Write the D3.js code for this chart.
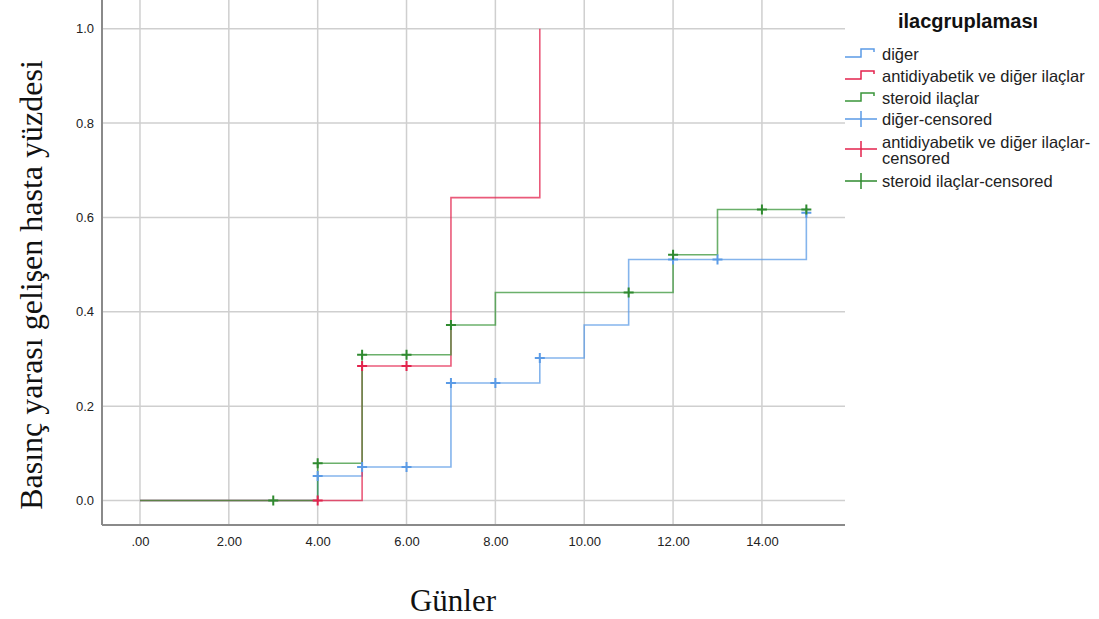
<!DOCTYPE html>
<html><head><meta charset="utf-8">
<script src="https://cdn.jsdelivr.net/npm/d3@7"></script>
<style>body{margin:0;background:#fff}svg{display:block}</style>
</head><body>
<svg id="chart" width="1099" height="619"></svg>
<script>
// ---- data ----
const groups = ["diğer", "antidiyabetik ve diğer ilaçlar", "steroid ilaçlar"];
const colors = ["#5b9be6", "#e3234d", "#3a953a"];
const censorColors = ["#5b9be6", "#e3234d", "#2f8a2f"];

const digerTimes = [0, 4, 5, 7, 9, 10, 11, 15];
const digerValues = [0, 0.052, 0.071, 0.249, 0.302, 0.372, 0.511, 0.61];
const antiTimes = [0, 5, 7, 9];
const antiValues = [0, 0.285, 0.642, 1.0];
const steroidTimes = [0, 4, 5, 7, 8, 12, 13, 15];
const steroidValues = [0, 0.079, 0.309, 0.372, 0.441, 0.521, 0.617, 0.617];

const digerCensTimes = [4, 5, 6, 7, 8, 9, 12, 13, 15];
const digerCensValues = [0.052, 0.071, 0.071, 0.249, 0.249, 0.302, 0.511, 0.511, 0.61];
const antiCensTimes = [4, 5, 6];
const antiCensValues = [0, 0.285, 0.285];
const steroidCensTimes = [3, 4, 5, 6, 7, 11, 12, 14, 15];
const steroidCensValues = [0, 0.079, 0.309, 0.309, 0.372, 0.441, 0.521, 0.617, 0.617];

const xTicks = [0, 2, 4, 6, 8, 10, 12, 14];
const yTicks = [0, 0.2, 0.4, 0.6, 0.8, 1.0];
const legendTitle = "ilacgruplaması";
const legendLabels = ["diğer", "antidiyabetik ve diğer ilaçlar", "steroid ilaçlar",
  "diğer-censored", ["antidiyabetik ve diğer ilaçlar-", "censored"], "steroid ilaçlar-censored"];
const xTitle = "Günler";
const yTitle = "Basınç yarası gelişen hasta yüzdesi";

// ---- layout ----
const svg = d3.select("#chart");
const L = 102, R = 845, T = 0, B = 525;
const x = d3.scaleLinear().domain([-0.855, 15.87]).range([L, R]);
const y = d3.scaleLinear().domain([-0.052, 1.061]).range([B, T]);

// gridlines
const grid = svg.append("g");
grid.selectAll("line.v").data(xTicks).join("line")
  .attr("x1", d => x(d)).attr("x2", d => x(d)).attr("y1", T).attr("y2", B)
  .attr("stroke", "#cfcfcf").attr("stroke-width", 1.5);
grid.selectAll("line.h").data(yTicks).join("line")
  .attr("x1", L).attr("x2", R).attr("y1", d => y(d)).attr("y2", d => y(d))
  .attr("stroke", "#cfcfcf").attr("stroke-width", 1.5);

// axes
const xAxis = svg.append("g").attr("transform", `translate(0,${B})`)
  .call(d3.axisBottom(x).tickValues(xTicks).tickSize(0).tickPadding(12)
    .tickFormat(d => d3.format(".2f")(d).replace(/^0\./, ".")));
const yAxis = svg.append("g").attr("transform", `translate(${L},0)`)
  .call(d3.axisLeft(y).tickValues(yTicks).tickSize(0).tickPadding(8).tickFormat(d3.format(".1f")));
[xAxis, yAxis].forEach(a => {
  a.select(".domain").attr("stroke", "#8a8a8a").attr("stroke-width", 2);
  a.selectAll("text").attr("font-family", "Liberation Sans, Arial, sans-serif")
    .attr("font-size", 13).attr("fill", "#222");
});
xAxis.select(".domain").attr("d", `M${L},0H${R}`);
yAxis.select(".domain").attr("d", `M0,${T}V${B}`);

// curves
const series = [
  {t: digerTimes, v: digerValues, ct: digerCensTimes, cv: digerCensValues},
  {t: antiTimes, v: antiValues, ct: antiCensTimes, cv: antiCensValues},
  {t: steroidTimes, v: steroidValues, ct: steroidCensTimes, cv: steroidCensValues}
];
const line = d3.line().x(d => x(d[0])).y(d => y(d[1])).curve(d3.curveStepAfter);
series.forEach((s, i) => {
  svg.append("path").datum(s.t.map((t, j) => [t, s.v[j]]))
    .attr("d", line).attr("fill", "none").attr("stroke", colors[i])
    .attr("stroke-width", 1.6).attr("stroke-opacity", 0.75);
});
series.forEach((s, i) => {
  const pts = s.ct.map((t, j) => [t, s.cv[j]]);
  const g = svg.append("g");
  g.selectAll("path").data(pts).join("path")
    .attr("d", d => `M${x(d[0]) - 5},${y(d[1])}H${x(d[0]) + 5}M${x(d[0])},${y(d[1]) - 5}V${y(d[1]) + 5}`)
    .attr("stroke", censorColors[i]).attr("stroke-width", 2).attr("fill", "none");
});

// legend
const lg = svg.append("g").attr("font-family", "Liberation Sans, Arial, sans-serif");
lg.append("text").attr("x", 898).attr("y", 28).attr("font-size", 20).attr("font-weight", "bold")
  .attr("fill", "#111").text(legendTitle);
const rowY = [54, 76, 98, 119, 142, 181];
legendLabels.forEach((lab, i) => {
  const cy = rowY[i];
  const col = colors[i % 3];
  if (i < 3) {
    lg.append("path").attr("d", `M845,${cy + 3}H861V${cy - 5}H874V${cy - 2}`)
      .attr("fill", "none").attr("stroke", col).attr("stroke-width", 1.5);
  } else {
    const iy = i === 4 ? 149 : cy;
    lg.append("path").attr("d", `M845,${iy}H877M861,${iy - 8}V${iy + 8}`)
      .attr("fill", "none").attr("stroke", censorColors[i % 3]).attr("stroke-width", 1.5);
  }
  const tx = lg.append("text").attr("x", 882).attr("font-size", 16.5).attr("fill", "#222");
  if (Array.isArray(lab)) {
    tx.attr("y", cy + 6);
    lab.forEach((l, k) => tx.append("tspan").attr("x", 882).attr("dy", k ? 16 : 0).text(l));
  } else {
    tx.attr("y", cy + 6).text(lab);
  }
});

// titles
svg.append("text").attr("x", 453).attr("y", 611).attr("text-anchor", "middle")
  .attr("font-family", "Liberation Serif, Times New Roman, serif").attr("font-size", 31)
  .attr("fill", "#111").text(xTitle);
svg.append("text").attr("transform", "translate(42,285) rotate(-90)").attr("text-anchor", "middle")
  .attr("font-family", "Liberation Serif, Times New Roman, serif").attr("font-size", 32)
  .attr("fill", "#111").text(yTitle);
</script>
</body></html>
